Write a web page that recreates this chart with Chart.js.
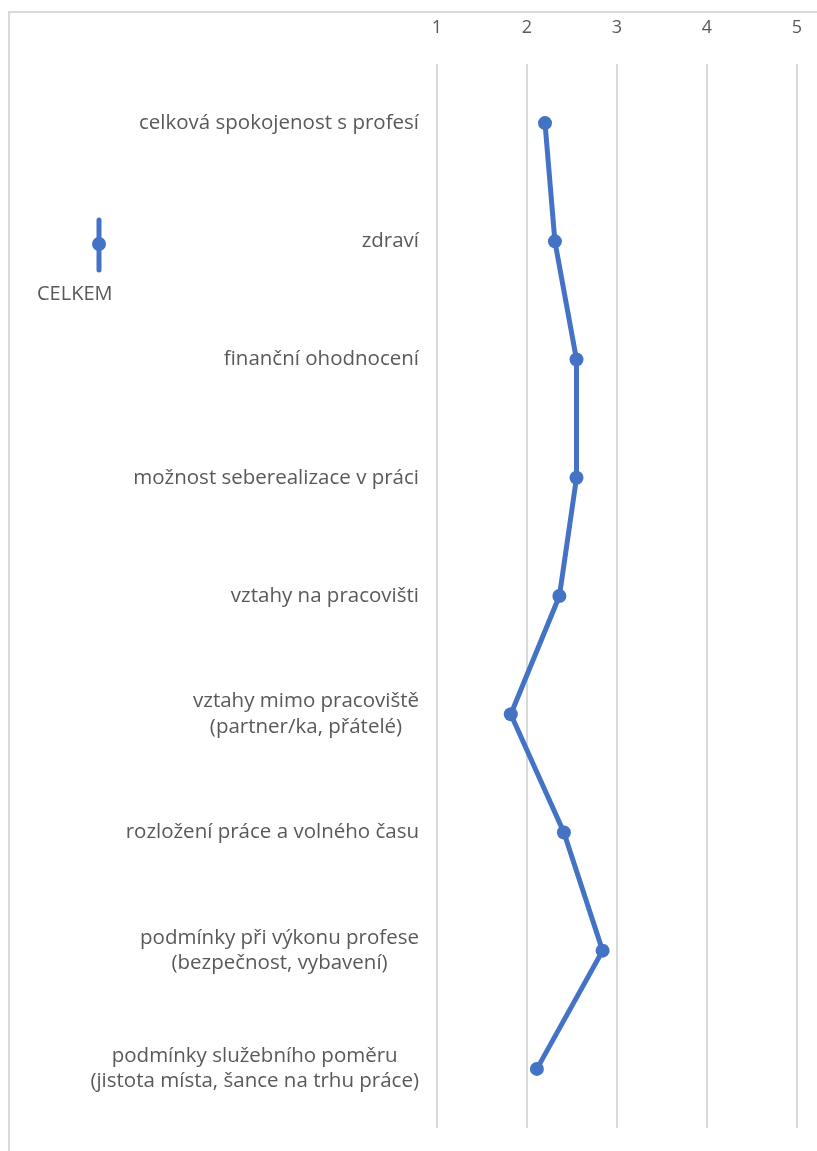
<!DOCTYPE html>
<html>
<head>
<meta charset="utf-8">
<script src="https://cdn.jsdelivr.net/npm/chart.js@4"></script>
<style>
  html, body { margin: 0; padding: 0; background: #fff; overflow: hidden; width: 817px; height: 1151px; }
  .frame { position: absolute; left: 8px; top: 11px; width: 809px; height: 1140px; box-sizing: border-box;
           border-left: 2px solid #d9d9d9; border-top: 2px solid #d9d9d9; }
  #satisfactionChart { position: absolute; left: 0; top: 0; }
</style>
</head>
<body>
<div class="frame"></div>
<canvas id="satisfactionChart" width="817" height="1151"></canvas>
<script>
const categories = [
    'celková spokojenost s profesí',
    'zdraví',
    'finanční ohodnocení',
    'možnost seberealizace v práci',
    'vztahy na pracovišti',
    ['vztahy mimo pracoviště', '(partner/ka, přátelé)'],
    'rozložení práce a volného času',
    ['podmínky při výkonu profese', '(bezpečnost, vybavení)'],
    ['podmínky služebního poměru', '(jistota místa, šance na trhu práce)']
];
const celkem = [2.20, 2.31, 2.55, 2.55, 2.36, 1.82, 2.41, 2.84, 2.11];
const xTicks = [1, 2, 3, 4, 5];

const lineColor = '#4472C4';
const textColor = '#595959';
const fontFamily = '"Open Sans", Lato, sans-serif';

// legend drawn like the Excel one: vertical stroke with a dot, name underneath
const sideLegend = {
    id: 'sideLegend',
    afterDraw(chart) {
        const ctx = chart.ctx;
        const ds = chart.data.datasets[0];
        const x = 99;
        ctx.save();
        ctx.strokeStyle = ds.borderColor;
        ctx.lineWidth = 5;
        ctx.lineCap = 'round';
        ctx.beginPath();
        ctx.moveTo(x, 220);
        ctx.lineTo(x, 270);
        ctx.stroke();
        ctx.fillStyle = ds.borderColor;
        ctx.beginPath();
        ctx.arc(x, 244, 7, 0, Math.PI * 2);
        ctx.fill();
        ctx.fillStyle = textColor;
        ctx.font = '20px ' + fontFamily;
        ctx.textAlign = 'left';
        ctx.textBaseline = 'middle';
        ctx.fillText(ds.label, 37, 294);
        ctx.restore();
    }
};

// category labels: block right-aligned to the axis, wrapped lines centred in the block
const categoryLabels = {
    id: 'categoryLabels',
    afterDraw(chart) {
        const ctx = chart.ctx;
        const yScale = chart.scales.y;
        const right = chart.chartArea.left - 18;
        const lineHeight = 25.5;
        ctx.save();
        ctx.fillStyle = textColor;
        ctx.font = '20.5px ' + fontFamily;
        ctx.textAlign = 'center';
        ctx.textBaseline = 'middle';
        chart.data.labels.forEach((label, i) => {
            const lines = Array.isArray(label) ? label : [label];
            const widest = Math.max(...lines.map(l => ctx.measureText(l).width));
            const cx = right - widest / 2;
            const cy = yScale.getPixelForValue(i);
            const top = cy - (lines.length - 1) * lineHeight / 2;
            lines.forEach((l, j) => ctx.fillText(l, cx, top + j * lineHeight));
        });
        ctx.restore();
    }
};

const ctx = document.getElementById('satisfactionChart').getContext('2d');
new Chart(ctx, {
    type: 'line',
    data: {
        labels: categories,
        datasets: [{
            label: 'CELKEM',
            data: celkem,
            borderColor: lineColor,
            backgroundColor: lineColor,
            borderWidth: 5,
            pointRadius: 7,
            pointHoverRadius: 7,
            pointBackgroundColor: lineColor,
            pointBorderWidth: 0,
            tension: 0
        }]
    },
    options: {
        indexAxis: 'y',
        responsive: false,
        animation: false,
        layout: {
            autoPadding: false,
            padding: { top: 0, right: 20, bottom: 23, left: 0 }
        },
        plugins: {
            legend: { display: false },
            tooltip: { enabled: false }
        },
        scales: {
            x: {
                position: 'top',
                min: xTicks[0],
                max: xTicks[xTicks.length - 1],
                afterBuildTicks: scale => {
                    scale.ticks = xTicks.map(v => ({ value: v }));
                },
                afterFit: scale => {
                    scale.height = 64;
                    scale.paddingLeft = 0;
                    scale.paddingRight = 0;
                },
                ticks: {
                    color: textColor,
                    font: { family: fontFamily, size: 18 },
                    padding: 25
                },
                grid: {
                    color: '#d9d9d9',
                    lineWidth: 2,
                    drawTicks: false
                },
                border: { display: false }
            },
            y: {
                type: 'category',
                offset: true,
                afterFit: scale => {
                    scale.width = 437;
                    scale.paddingTop = 0;
                    scale.paddingBottom = 0;
                },
                ticks: { display: false },
                grid: { display: false, drawTicks: false },
                border: { display: false }
            }
        }
    },
    plugins: [sideLegend, categoryLabels]
});
</script>
</body>
</html>
